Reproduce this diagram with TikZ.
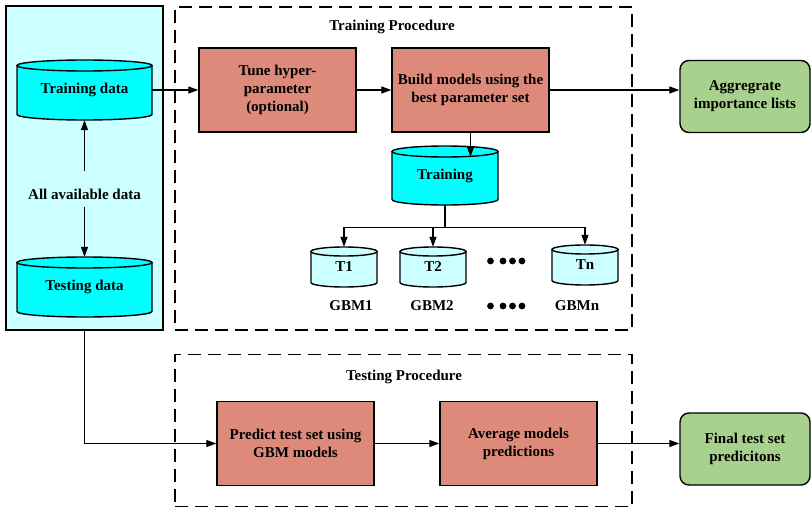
\documentclass[tikz,border=0pt]{standalone}
\usepackage{fontspec}
\setmainfont{Liberation Serif}
\usetikzlibrary{arrows.meta,calc}

\definecolor{poolfill}{HTML}{CCFFFF}
\definecolor{dbcyan}{HTML}{00FFFF}
\definecolor{dblight}{HTML}{CCFFFF}
\definecolor{stepred}{HTML}{DE8A7B}
\definecolor{outgreen}{HTML}{A9D18E}

% database cylinder: name, x-left, x-right, y-top, y-bottom, cap radius, fill, label
\newcommand{\dbcyl}[8]{%
  \pgfmathsetmacro\cylcx{(#2+#3)/2}%
  \pgfmathsetmacro\cylrx{(#3-#2)/2}%
  \pgfmathsetmacro\cylw{#3-#2}%
  \pgfmathsetmacro\cylh{#5-#4}%
  \filldraw[cylline, fill=#7] (#2,#4+#6) -- (#2,#5-#6)
    arc[start angle=180, end angle=360, x radius=\cylrx pt, y radius=#6 pt]
    -- (#3,#4+#6) -- cycle;
  \filldraw[cylline, fill=#7] (\cylcx,#4+#6) ellipse[x radius=\cylrx pt, y radius=#6 pt];
  \node[lbl, minimum width=\cylw pt, minimum height=\cylh pt, inner sep=0pt]
    (#1) at (\cylcx,{(#4+#5)/2}) {#8};%
}

\begin{document}
\begin{tikzpicture}[x=1pt, y=-1pt,
  lbl/.style={font=\fontsize{15}{18}\selectfont\bfseries, align=center},
  stepbox/.style={lbl, draw, line width=1.4pt, fill=stepred,
    minimum width=157pt, minimum height=84pt, inner sep=0pt},
  outbox/.style={lbl, draw, line width=1.4pt, fill=outgreen, rounded corners=9pt,
    minimum width=130pt, minimum height=72pt, inner sep=0pt},
  cylline/.style={line width=1.4pt},
  procframe/.style={draw, line width=1.6pt, dash pattern=on 13pt off 7pt},
  arr/.style={line width=1.2pt, -{Triangle[length=10pt, width=7pt]}},
  link/.style={line width=1.2pt},
]
\useasboundingbox (0,0) rectangle (811,508);

% data pool on the left
\node[draw, line width=1.4pt, fill=poolfill, minimum width=157pt, minimum height=324pt,
  inner sep=0pt] (pool) at (84.5,168) {};
\dbcyl{trdata}{17}{152}{60}{120}{5.5}{dbcyan}{Training data}
\dbcyl{tedata}{17}{152}{257}{317}{5.5}{dbcyan}{Testing data}
\node[lbl, inner sep=0pt] (alld) at (84.5,194) {All available data};
\draw[arr, shorten <=18pt] (alld) -- (trdata.south);
\draw[arr, shorten <=8pt] (alld) -- (tedata.north);

% training procedure frame
\node[procframe, minimum width=457pt, minimum height=323pt, inner sep=0pt]
  (trframe) at (403.5,168.5) {};
\node[lbl] (trtitle) at (392,27) {Training Procedure};
\node[stepbox] (tune) at (277.5,90) {Tune hyper-\\parameter\\(optional)};
\node[stepbox] (build) at (470.5,90) {Build models using the\\best parameter set};
\node[outbox] (agg) at (745,96.5) {Aggregrate\\importance lists};

\draw[arr] (trdata.east) -- (tune.west);
\draw[arr] (tune.east) -- (build.west);
\draw[arr] (build.east) -- (build.east -| agg.west);

\dbcyl{traincyl}{392}{498}{146}{205}{5.5}{dbcyan}{Training}
\coordinate (captgt) at ([yshift=-11pt]traincyl.north);
\draw[arr] (build.south) -- (build.south |- captgt);

\dbcyl{t1}{311}{377}{247}{287}{4.5}{dblight}{T1}
\dbcyl{t2}{400}{466}{247}{287}{4.5}{dblight}{T2}
\dbcyl{tn}{552}{618}{245}{285}{4.5}{dblight}{Tn}
\coordinate (split) at ($(traincyl.south)+(0,22)$);
\draw[link] (traincyl.south) -- (split);
\draw[arr] (split) -| (t1.north);
\draw[arr] (split) -| (t2.north);
\draw[arr] (split) -| (tn.north);

\node[lbl] (g1) at (351,306) {GBM1};
\node[lbl] (g2) at (432,306) {GBM2};
\node[lbl] (gn) at (577,306) {GBMn};
\foreach \yy in {261,306} {
  \foreach \xx in {490.5,503,512.5,522} {
    \fill (\xx,\yy) circle[radius=3.4pt];
  }
}

% testing procedure frame
\node[procframe, minimum width=457pt, minimum height=152pt, inner sep=0pt]
  (teframe) at (403.5,430.5) {};
\node[lbl] (tetitle) at (404,377) {Testing Procedure};
\node[stepbox] (predict) at (295.5,443.5) {Predict test set using\\GBM models};
\node[stepbox] (average) at (518.5,443.5) {Average models\\predictions};
\node[outbox] (final) at (745,449) {Final test set\\predicitons};

\draw[arr] (pool.south) |- (predict.west);
\draw[arr] (predict.east) -- (average.west);
\draw[arr] (average.east) -- (average.east -| final.west);
\end{tikzpicture}
\end{document}
